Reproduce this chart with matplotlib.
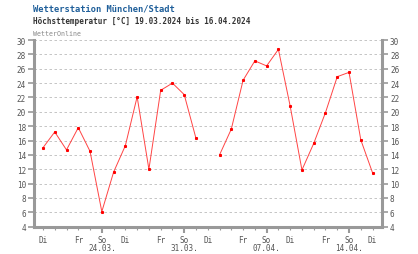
import matplotlib
matplotlib.use("Agg")
import matplotlib.pyplot as plt
import numpy as np

# Tageshoechsttemperatur 19.03.2024 - 16.04.2024 (02.04. fehlt)
days = np.arange(29)
temps = [15.0, 17.2, 14.7, 17.8, 14.5, 6.1, 11.6, 15.3, 22.1, 12.0,
         23.0, 24.0, 22.4, 16.3, np.nan, 14.0, 17.6, 24.4, 27.1, 26.4,
         28.7, 20.8, 11.9, 15.6, 19.9, 24.9, 25.5, 16.1, 11.5]
weekday_pos = [0, 3, 5, 7, 10, 12, 14, 17, 19, 21, 24, 26, 28]
weekday_lbl = ["Di", "Fr", "So", "Di", "Fr", "So", "Di", "Fr", "So", "Di", "Fr", "So", "Di"]
sunday_pos = [5, 12, 19, 26]
sunday_dates = ["24.03.", "31.03.", "07.04.", "14.04."]

mono = "DejaVu Sans Mono"
grey = "#999999"
txt = "#555555"

fig = plt.figure(figsize=(4.18, 2.55), dpi=100)
ax = fig.add_axes([0.0825, 0.107, 0.8305, 0.732])

ax.plot(days, temps, color="#ff4444", lw=0.7, marker="s", ms=1.2, mec="#ff0000", mfc="#ff0000")

ax.set_xlim(-0.72, 28.77)
ax.set_ylim(4, 30)
yt = np.arange(4, 31, 2)
ax.set_yticks(yt)
ax.set_yticklabels([str(v) for v in yt], fontsize=5.5, family=mono, color=txt)
ax.tick_params(axis="y", which="both", right=True, labelright=True, length=4, width=1.2,
               color=grey, pad=2)
for v in yt[1:]:
    ax.axhline(v, color="#bbbbbb", lw=0.6, ls=(0, (3, 3)), zorder=0)

ax.set_xticks(days, minor=True)
ax.set_xticks(sunday_pos)
ax.set_xticklabels([])
ax.tick_params(axis="x", which="minor", length=2, width=0.8, color=grey)
ax.tick_params(axis="x", which="major", length=4, width=1.5, color=grey)

for p, l in zip(weekday_pos, weekday_lbl):
    ax.text(p, -0.066, l, transform=ax.get_xaxis_transform(), ha="center", va="center",
            fontsize=5.5, family=mono, color=txt)
for p, l in zip(sunday_pos, sunday_dates):
    ax.text(p, -0.111, l, transform=ax.get_xaxis_transform(), ha="center", va="center",
            fontsize=5.5, family=mono, color=txt)

for s in ["left", "right", "bottom"]:
    ax.spines[s].set_color(grey)
    ax.spines[s].set_linewidth(2.2)
ax.spines["top"].set_visible(False)

fig.text(33 / 418, 1 - 9 / 255, "Wetterstation München/Stadt", fontsize=6.3, family=mono,
         weight="bold", color="#1f5f9a", va="center")
fig.text(33 / 418, 1 - 22 / 255, "Höchsttemperatur [°C] 19.03.2024 bis 16.04.2024", fontsize=5.5,
         family=mono, weight="bold", color="#333333", va="center")
fig.text(33 / 418, 1 - 33.5 / 255, "WetterOnline", fontsize=4.8, family=mono, color="#888888",
         va="center")

fig.savefig("out.png", dpi=100)
